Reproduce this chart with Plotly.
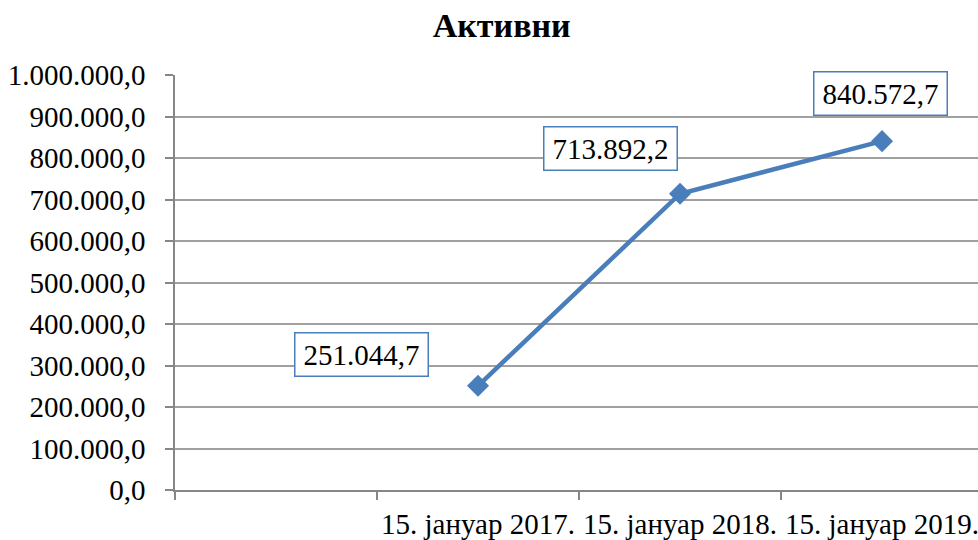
import plotly.graph_objects as go

categories = ["15. јануар 2017.", "15. јануар 2018.", "15. јануар 2019."]
values = [251044.7, 713892.2, 840572.7]
label_texts = ["251.044,7", "713.892,2", "840.572,7"]
title_text = "Активни"

x_pos = [1, 2, 3]
font_family = "Liberation Serif"
blue = "#4A7EBB"

fig = go.Figure()
fig.add_trace(go.Scatter(
    x=x_pos, y=values, mode="lines+markers",
    line=dict(color=blue, width=4.5),
    marker=dict(symbol="diamond", size=17, color=blue),
    showlegend=False, hoverinfo="skip",
))

offsets = [(-117, 31), (-70, 45), (-2, 48)]
for xv, yv, t, (dx, dy) in zip(x_pos, values, label_texts, offsets):
    fig.add_annotation(
        x=xv, y=yv, text=t, showarrow=False,
        xshift=dx, yshift=dy,
        font=dict(family=font_family, size=29, color="#000000"),
        bgcolor="white", bordercolor=blue, borderwidth=1.5,
        width=130, height=40, borderpad=1,
    )

# category labels under the axis
for xv, c in zip(x_pos, categories):
    fig.add_annotation(
        x=xv, xref="x", y=0, yref="paper", text=c, showarrow=False,
        xanchor="center", yanchor="middle", yshift=-34,
        font=dict(family=font_family, size=29, color="#000000"),
    )

fig.update_layout(
    width=978, height=540,
    margin=dict(l=175, r=0, t=75, b=50, autoexpand=False),
    paper_bgcolor="white", plot_bgcolor="white",
    separators=",.",
    font=dict(family=font_family),
    title=dict(text="<b>" + title_text + "</b>", x=0.513, xanchor="center",
               y=1 - 25 / 540, yanchor="middle", automargin=False,
               font=dict(family=font_family, size=34, color="#000000")),
    xaxis=dict(
        range=[-0.5, 3.475], tickmode="array", tickvals=[-0.5, 0.5, 1.5, 2.5],
        showticklabels=False,
        ticks="outside", ticklen=8, tickcolor="#868686", tickwidth=1.5,
        showgrid=False, zeroline=False, automargin=False,
        showline=True, linecolor="#868686", linewidth=1.5,
    ),
    yaxis=dict(
        range=[0, 1000000], tickmode="linear", tick0=0, dtick=100000,
        tickformat=",.1f", ticks="outside", ticklen=8, tickcolor="#868686", tickwidth=1.5,
        showgrid=True, gridcolor="#a0a0a0", gridwidth=1.5, automargin=False,
        zeroline=False, showline=True, linecolor="#868686", linewidth=1.5,
        tickfont=dict(family=font_family, size=29, color="#000000"),
        ticklabelstandoff=14,
    ),
)

fig.write_html("out.html", config={"displayModeBar": False},
               post_script="document.body.style.margin='0';")
